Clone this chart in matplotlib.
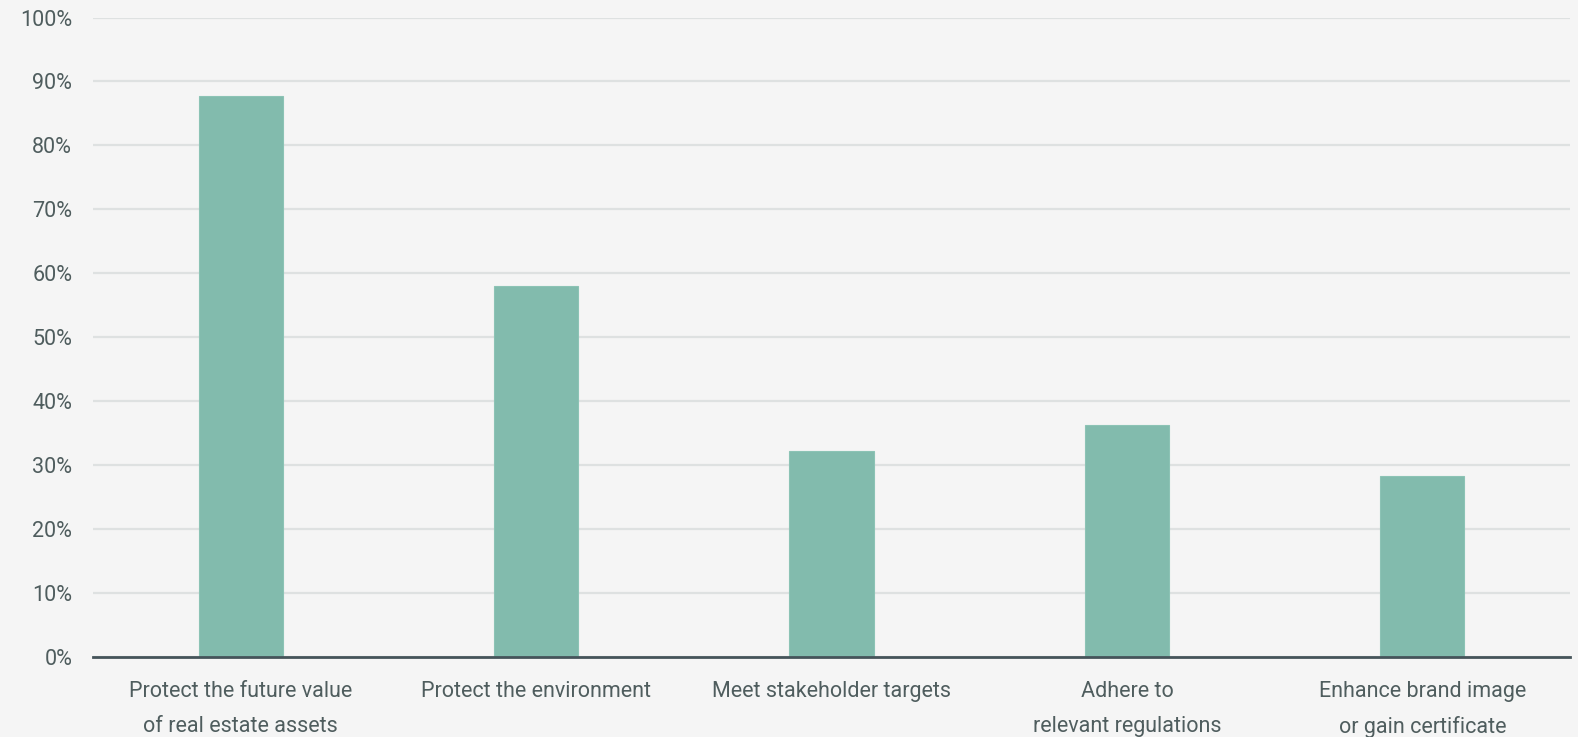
import matplotlib.pyplot as plt
import numpy as np

categories = [
    "Protect the future value\nof real estate assets",
    "Protect the environment",
    "Meet stakeholder targets",
    "Adhere to\nrelevant regulations",
    "Enhance brand image\nor gain certificate",
]
values = [87.8, 58.0, 32.3, 36.3, 28.3]
yticks = list(range(0, 101, 10))

bg = "#f5f5f5"
bar_color = "#82bbad"
text_color = "#4f5d5e"

plt.rcParams["font.family"] = ["Roboto", "DejaVu Sans"]

fig = plt.figure(figsize=(15.78, 7.37), dpi=100, facecolor=bg)
ax = fig.add_axes([93 / 1578, 1 - 657.3 / 737, 1477 / 1578, 639.8 / 737])
ax.set_facecolor(bg)

x = np.arange(len(categories))
ax.bar(x, values, width=0.285, color=bar_color, edgecolor="#8cc3b5", linewidth=0.8, zorder=2)

ax.set_xlim(-0.5, len(categories) - 0.5)
ax.set_ylim(0, 100)
ax.set_yticks(yticks)
ax.set_yticklabels([f"{t}%" for t in yticks])
ax.yaxis.grid(True, color="#dee1e1", linewidth=1.6, zorder=0)
ax.set_axisbelow(True)

ax.set_xticks(x)
ax.set_xticklabels(categories, linespacing=1.85, va="top")

for s in ["top", "right", "left"]:
    ax.spines[s].set_visible(False)
ax.spines["bottom"].set_color("#45545a")
ax.spines["bottom"].set_linewidth(2)
ax.spines["bottom"].set_zorder(3)

ax.tick_params(axis="both", length=0, colors=text_color, labelsize=15.5)
ax.tick_params(axis="y", pad=15)
ax.tick_params(axis="x", pad=17)

fig.savefig("out.png", dpi=100, facecolor=bg)
